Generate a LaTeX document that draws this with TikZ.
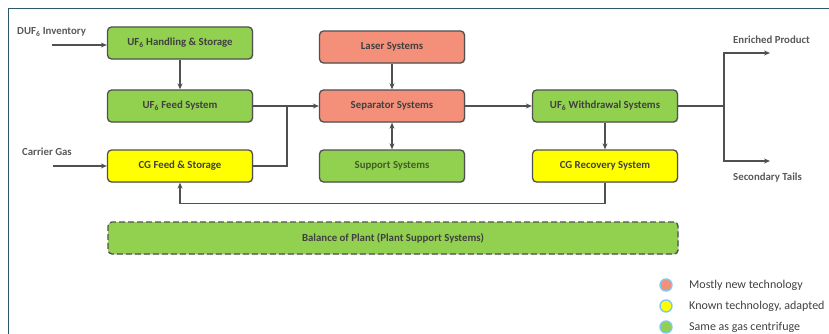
\documentclass[tikz,border=0pt]{standalone}
\usepackage{fontspec}
\setmainfont{Carlito}
\usetikzlibrary{arrows.meta,shadows}
\definecolor{cgreen}{HTML}{92D050}
\definecolor{csalmon}{HTML}{F4907A}
\definecolor{cyellow}{HTML}{FFFF00}
\definecolor{cborder}{HTML}{505050}
\definecolor{ctext}{HTML}{404040}
\definecolor{clabel}{HTML}{595959}
\definecolor{cframe}{HTML}{2A5A68}
\definecolor{cring}{HTML}{7CC8F0}
\tikzset{
  sysbox/.style={draw=cborder, line width=1.3pt, rounded corners=4pt,
    minimum width=145pt, minimum height=32pt, inner sep=0pt,
    font=\bfseries\fontsize{10.8}{12}\selectfont, text=ctext,
    drop shadow={opacity=0.2, shadow xshift=1pt, shadow yshift=-1pt}},
  greenbox/.style={sysbox, fill=cgreen},
  redbox/.style={sysbox, fill=csalmon},
  yellowbox/.style={sysbox, fill=cyellow},
  conn/.style={draw=cborder, line width=1.3pt, -{Stealth[length=6pt,width=5pt]}},
  plainconn/.style={draw=cborder, line width=1.3pt},
  extlabel/.style={font=\bfseries\fontsize{10.8}{12}\selectfont, text=clabel, inner sep=0pt, anchor=west},
  legdot/.style={circle, draw=cring, line width=1.4pt, minimum size=12pt, inner sep=0pt},
  legtext/.style={font=\fontsize{12}{14}\selectfont, text=ctext, inner sep=0pt, anchor=west},
}
\begin{document}
\begin{tikzpicture}[x=1pt,y=-1pt]
\useasboundingbox (0,0) rectangle (829,334);
\draw[cframe, line width=1pt] (8,334) -- (8,9) -- (829,9);

% boxes
\node[greenbox] (hand) at (180,43) {UF\textsubscript{6} Handling \& Storage};
\node[greenbox] (feed) at (180,106) {UF\textsubscript{6} Feed System};
\node[yellowbox] (cgfeed) at (180,166) {CG Feed \& Storage};
\node[redbox] (laser) at (392,47) {Laser Systems};
\node[redbox] (sep) at (392,106) {Separator Systems};
\node[greenbox, text=black!55!cgreen] (supp) at (392,166) {Support Systems};
\node[greenbox] (wd) at (605,106) {UF\textsubscript{6} Withdrawal Systems};
\node[yellowbox] (cgrec) at (605,166) {CG Recovery System};
\node[sysbox, fill=cgreen, dashed, dash pattern=on 6pt off 3pt, minimum width=570pt] (bop) at (393,238) {Balance of Plant (Plant Support Systems)};

% external labels
\node[extlabel] (duflab) at (17,32) {DUF\textsubscript{6} Inventory};
\node[extlabel] (cglab) at (22,152) {Carrier Gas};
\node[extlabel] (enrlab) at (733,40) {Enriched Product};
\node[extlabel] (taillab) at (733,178) {Secondary Tails};

\coordinate (dufin) at (52,45);
\coordinate (cgin) at (53,166);
\coordinate (join) at (287,106);
\coordinate (split) at (724,106);
\coordinate (enrout) at (770,53);
\coordinate (tailout) at (770,161);

\draw[conn] (dufin) -- (dufin -| hand.west);
\draw[conn] (cgin) -- (cgin -| cgfeed.west);
\draw[conn] (hand) -- (feed);
\draw[plainconn] (feed.east) -- (join);
\draw[plainconn] (cgfeed.east) -| (join);
\draw[conn] (join) -- (sep.west);
\draw[conn] (laser) -- (sep);
\draw[draw=cborder, line width=1.3pt, {Stealth[length=6pt,width=5pt]}-{Stealth[length=6pt,width=5pt]}] (sep) -- (supp);
\draw[conn] (sep) -- (wd);
\draw[conn] (wd) -- (cgrec);
\draw[conn] (cgrec.south) -- ++(0,21) -| (cgfeed.south);
\draw[plainconn] (wd.east) -- (split);
\draw[conn] (split) |- (enrout);
\draw[conn] (split) |- (tailout);

% legend
\node[legdot, fill=csalmon] (d1) at (666,285) {};
\node[legdot, fill=cyellow] (d2) at (666,306) {};
\node[legdot, fill=cgreen] (d3) at (666,327) {};
\node[legtext] (t1) at (689,285) {Mostly new technology};
\node[legtext] (t2) at (689,306) {Known technology, adapted};
\node[legtext] (t3) at (689,327) {Same as gas centrifuge};
\end{tikzpicture}
\end{document}
